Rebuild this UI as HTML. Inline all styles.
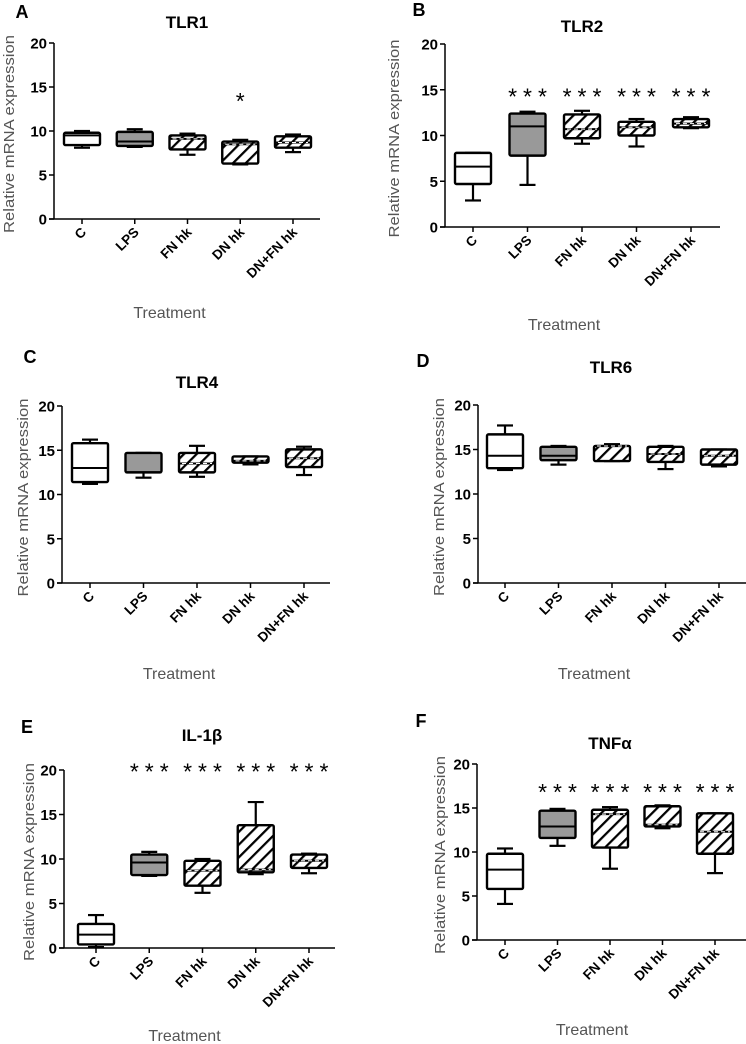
<!DOCTYPE html>
<html><head><meta charset="utf-8">
<style>
html,body{margin:0;padding:0;background:#fff;}
svg{display:block;font-family:"Liberation Sans",Verdana,sans-serif;}
</style></head>
<body>
<svg id="fig" width="746" height="1044" viewBox="0 0 746 1044">
<defs>
<pattern id="hatch" patternUnits="userSpaceOnUse" width="9" height="9" patternTransform="rotate(45)">
<rect width="9" height="9" fill="#fff"/>
<line x1="0" y1="0" x2="0" y2="9" stroke="#000" stroke-width="4.5"/>
</pattern>
</defs>
</svg>
<script>
const categories = ["C","LPS","FN hk","DN hk","DN+FN hk"];
const yTicks = [0,5,10,15,20];
const fills = ["#fff","#999","hatch","hatch","hatch"];
// [min, q1, median, q3, max]
const tlr1Stats = [[8.1,8.4,9.5,9.8,10.0],[8.2,8.3,8.8,9.9,10.2],[7.3,7.9,9.1,9.5,9.7],[6.2,6.3,8.5,8.8,9.0],[7.6,8.1,8.7,9.4,9.6]];
const tlr2Stats = [[2.9,4.7,6.6,8.1,8.1],[4.6,7.8,11.0,12.4,12.6],[9.1,9.7,10.7,12.3,12.7],[8.8,10.0,10.9,11.5,11.8],[10.8,10.9,11.3,11.8,12.0]];
const tlr4Stats = [[11.2,11.4,13.0,15.8,16.2],[11.9,12.5,12.5,14.7,14.7],[12.0,12.5,13.5,14.7,15.5],[13.4,13.6,13.8,14.3,14.3],[12.2,13.1,14.1,15.1,15.4]];
const tlr6Stats = [[12.7,12.9,14.3,16.7,17.7],[13.3,13.8,14.3,15.3,15.4],[13.7,13.7,15.4,15.4,15.6],[12.8,13.6,14.5,15.3,15.4],[13.1,13.3,14.3,15.0,15.0]];
const il1bStats = [[0.1,0.4,1.5,2.7,3.7],[8.1,8.2,9.6,10.5,10.8],[6.2,7.0,8.7,9.8,10.0],[8.3,8.5,8.8,13.8,16.4],[8.4,9.0,9.8,10.5,10.6]];
const tnfaStats = [[4.1,5.8,8.0,9.8,10.4],[10.7,11.6,12.9,14.7,14.9],[8.1,10.5,14.3,14.8,15.1],[12.7,12.9,13.1,15.2,15.3],[7.6,9.8,12.3,14.4,14.4]];
const tlr1Sig = ["","","","*",""];
const tlr2Sig = ["","***","***","***","***"];
const noSig = ["","","","",""];
const il1bSig = ["","***","***","***","***"];
const tnfaSig = ["","***","***","***","***"];
const tlr1SigY = 14; const tlr2SigY = 14.8; const il1bSigY = 20.4; const tnfaSigY = 17.4;

const panels = [
 {letter:"A",title:"TLR1",stats:tlr1Stats,sig:tlr1Sig,sigY:tlr1SigY,ax:54,y20:43,y0:219,xEnd:320,t0:82,dt:52.75,lx:22,ly:18,tx:187,ty:28,ylx:14,trY:318},
 {letter:"B",title:"TLR2",stats:tlr2Stats,sig:tlr2Sig,sigY:tlr2SigY,ax:445,y20:44,y0:227,xEnd:720,t0:473,dt:54.5,lx:419,ly:16,tx:582,ty:32,ylx:399,trY:330},
 {letter:"C",title:"TLR4",stats:tlr4Stats,sig:noSig,sigY:0,ax:62,y20:406,y0:583,xEnd:330,t0:90,dt:53.5,lx:30,ly:363,tx:197,ty:388,ylx:28,trY:679},
 {letter:"D",title:"TLR6",stats:tlr6Stats,sig:noSig,sigY:0,ax:478,y20:405,y0:583,xEnd:746,t0:505,dt:53.5,lx:423,ly:367,tx:611,ty:373,ylx:444,trY:679},
 {letter:"E",title:"IL-1\u03B2",stats:il1bStats,sig:il1bSig,sigY:il1bSigY,ax:64,y20:770,y0:948,xEnd:335,t0:96,dt:53.25,lx:27,ly:733,tx:202,ty:741,ylx:34,trY:1041},
 {letter:"F",title:"TNF\u03B1",stats:tnfaStats,sig:tnfaSig,sigY:tnfaSigY,ax:477,y20:764,y0:940,xEnd:746,t0:505,dt:52.5,lx:421,ly:727,tx:610,ty:749,ylx:445,trY:1035}
];
const NS="http://www.w3.org/2000/svg";
const svg=document.getElementById("fig");
function mk(tag,attrs,parent,text){const e=document.createElementNS(NS,tag);for(const k in attrs)e.setAttribute(k,attrs[k]);if(text!==undefined)e.textContent=text;parent.appendChild(e);return e;}

panels.forEach((p,pi)=>{
  const g=mk("g",{},svg);
  
  
  const y=v=>p.y0-(v/20)*(p.y0-p.y20);
  const x=i=>p.t0+i*p.dt;
  const L=mk("text",{x:p.lx,y:p.ly,"font-size":18,"font-weight":"bold","text-anchor":"middle"},g,p.letter);
  
  
  const T=mk("text",{x:p.tx,y:p.ty,"font-size":17,"font-weight":"bold","text-anchor":"middle"},g,p.title);
  
  
  const yl=mk("text",{x:0,y:0,"font-size":15,fill:"#555","text-anchor":"middle",textLength:198,lengthAdjust:"spacingAndGlyphs",transform:`translate(${p.ylx},${(p.y0+p.y20)/2+3}) rotate(-90)`},g,"Relative mRNA expression");
  
  
  const xt=mk("text",{x:p.t0+2*p.dt-18,y:p.trY,"font-size":16,fill:"#555","text-anchor":"middle"},g,"Treatment");
  
  
  const ya=mk("line",{x1:p.ax,y1:p.y20,x2:p.ax,y2:p.y0,stroke:"#000","stroke-width":1.5},g);
  
  
  const xa=mk("line",{x1:p.ax-5,y1:p.y0,x2:p.xEnd,y2:p.y0,stroke:"#000","stroke-width":1.5},g);
  
  
  yTicks.forEach(t=>{
    mk("line",{x1:p.ax-5,y1:y(t),x2:p.ax,y2:y(t),stroke:"#000","stroke-width":1.5},g);
    const tl=mk("text",{x:p.ax-7,y:y(t)+5.5,"font-size":15,"font-weight":"bold","text-anchor":"end"},g,String(t));
    
    
  });
  categories.forEach((c,i)=>{
    mk("line",{x1:x(i),y1:p.y0,x2:x(i),y2:p.y0+5,stroke:"#000","stroke-width":1.5},g);
    const cl=mk("text",{x:0,y:0,"font-size":13.5,"font-weight":"bold","text-anchor":"end",transform:`translate(${x(i)+5},${p.y0+14}) rotate(-45)`},g,c);
    
    
    const s=p.stats[i];
    const bw=36, cx=x(i);
    const bg=mk("g",{},g);
    
    
    mk("line",{x1:cx,y1:y(s[0]),x2:cx,y2:y(s[1]),stroke:"#000","stroke-width":2.2},bg);
    mk("line",{x1:cx,y1:y(s[3]),x2:cx,y2:y(s[4]),stroke:"#000","stroke-width":2.2},bg);
    mk("line",{x1:cx-8,y1:y(s[0]),x2:cx+8,y2:y(s[0]),stroke:"#000","stroke-width":2.2},bg);
    mk("line",{x1:cx-8,y1:y(s[4]),x2:cx+8,y2:y(s[4]),stroke:"#000","stroke-width":2.2},bg);
    const f=fills[i]==="hatch"?"url(#hatch)":fills[i];
    mk("rect",{x:cx-bw/2,y:y(s[3]),width:bw,height:Math.max(1,y(s[1])-y(s[3])),fill:f,stroke:"#000","stroke-width":2.4,rx:1.5},bg);
    mk("line",{x1:cx-bw/2,y1:y(s[2]),x2:cx+bw/2,y2:y(s[2]),stroke:"#000","stroke-width":2},bg);
    if(fills[i]==="hatch") mk("line",{x1:cx-bw/2+3,y1:y(s[2]),x2:cx+bw/2-3,y2:y(s[2]),stroke:"#fff","stroke-width":1,"stroke-dasharray":"4 3"},bg);
    if(p.sig[i]){
      const st=mk("text",{x:cx+3,y:y(p.sigY)+13,"font-size":23,"text-anchor":"middle","letter-spacing":"6"},g,p.sig[i]);
      
      
    }
  });
});
</script>
</body></html>
